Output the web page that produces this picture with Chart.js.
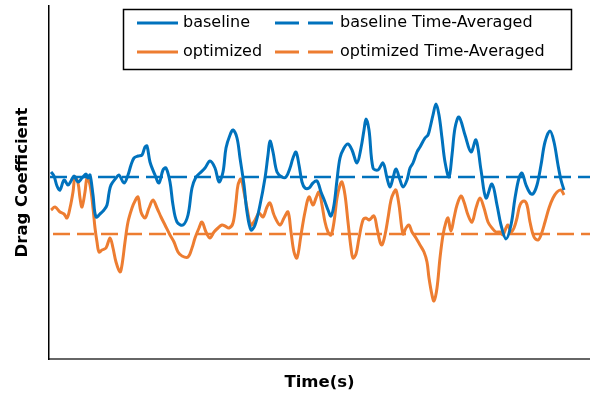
<!DOCTYPE html>
<html>
<head>
<meta charset="utf-8">
<script src="https://cdn.jsdelivr.net/npm/chart.js@4/dist/chart.umd.min.js"></script>
<style>
  html, body { margin: 0; padding: 0; background: #fff; }
  #wrap { width: 590px; height: 398px; }
</style>
</head>
<body>
<div id="wrap"><canvas id="dragChart" width="590" height="398"></canvas></div>
<script>
// Drag coefficient traces (time in s)
const baselineTime = [0.04, 0.10, 0.16, 0.22, 0.30, 0.38, 0.44, 0.50, 0.58, 0.66, 0.74, 0.78, 0.82, 0.88, 0.94, 1.04, 1.10, 1.16, 1.20, 1.24,
  1.34, 1.40, 1.50, 1.58, 1.64, 1.70, 1.78, 1.86, 1.92, 1.96, 2.02, 2.12, 2.20, 2.28, 2.34, 2.42, 2.48, 2.56, 2.68, 2.78,
  2.86, 2.94, 3.02, 3.12, 3.22, 3.32, 3.40, 3.48, 3.54, 3.62, 3.68, 3.76, 3.82, 3.90, 3.96, 4.04, 4.12, 4.22, 4.32, 4.38,
  4.42, 4.48, 4.56, 4.66, 4.74, 4.82, 4.88, 4.94, 5.00, 5.06, 5.12, 5.20, 5.28, 5.36, 5.44, 5.52, 5.58, 5.64, 5.70, 5.76,
  5.82, 5.90, 5.98, 6.06, 6.16, 6.24, 6.30, 6.34, 6.40, 6.48, 6.58, 6.68, 6.76, 6.82, 6.88, 6.94, 7.02, 7.08, 7.16, 7.22,
  7.28, 7.36, 7.42, 7.52, 7.58, 7.62, 7.68, 7.74, 7.80, 7.86, 7.92, 8.00, 8.06, 8.12, 8.20, 8.32, 8.44, 8.54, 8.64, 8.74,
  8.86, 8.96, 9.04, 9.14, 9.24, 9.32, 9.40, 9.46, 9.54, 9.62, 9.68, 9.76, 9.84, 9.92, 10.02, 10.10, 10.18, 10.24, 10.30];
const baselineCd = [0.387, 0.383, 0.373, 0.369, 0.379, 0.374, 0.378, 0.383, 0.377, 0.381, 0.385, 0.381, 0.384, 0.364, 0.342, 0.346, 0.349, 0.354, 0.366, 0.374,
  0.381, 0.384, 0.376, 0.384, 0.394, 0.401, 0.403, 0.404, 0.412, 0.413, 0.397, 0.384, 0.376, 0.389, 0.391, 0.377, 0.354, 0.337, 0.334, 0.344,
  0.371, 0.382, 0.386, 0.391, 0.398, 0.391, 0.377, 0.387, 0.411, 0.424, 0.429, 0.421, 0.401, 0.374, 0.347, 0.329, 0.334, 0.354, 0.381, 0.404,
  0.418, 0.407, 0.387, 0.382, 0.382, 0.391, 0.401, 0.407, 0.394, 0.377, 0.371, 0.371, 0.376, 0.378, 0.367, 0.357, 0.349, 0.343, 0.354, 0.379,
  0.401, 0.411, 0.415, 0.409, 0.396, 0.411, 0.429, 0.440, 0.429, 0.391, 0.389, 0.396, 0.381, 0.372, 0.381, 0.390, 0.379, 0.372, 0.379, 0.391,
  0.396, 0.407, 0.412, 0.421, 0.424, 0.431, 0.444, 0.455, 0.444, 0.421, 0.397, 0.382, 0.404, 0.431, 0.442, 0.424, 0.407, 0.419, 0.389, 0.361,
  0.375, 0.354, 0.334, 0.320, 0.334, 0.361, 0.381, 0.386, 0.374, 0.366, 0.365, 0.374, 0.394, 0.417, 0.428, 0.417, 0.394, 0.379, 0.369];

const optimizedTime = [0.04, 0.12, 0.22, 0.30, 0.36, 0.42, 0.48, 0.52, 0.58, 0.62, 0.66, 0.72, 0.76, 0.82, 0.88, 0.92, 0.96, 1.00, 1.06, 1.14,
  1.22, 1.28, 1.34, 1.42, 1.46, 1.52, 1.58, 1.66, 1.72, 1.78, 1.84, 1.92, 2.00, 2.08, 2.16, 2.24, 2.32, 2.42, 2.50, 2.58,
  2.66, 2.78, 2.86, 2.92, 3.00, 3.06, 3.14, 3.22, 3.30, 3.38, 3.46, 3.52, 3.60, 3.68, 3.74, 3.78, 3.84, 3.90, 3.96, 4.04,
  4.12, 4.20, 4.28, 4.36, 4.42, 4.50, 4.62, 4.70, 4.78, 4.84, 4.90, 4.96, 5.04, 5.12, 5.20, 5.28, 5.34, 5.40, 5.46, 5.52,
  5.58, 5.64, 5.70, 5.76, 5.82, 5.86, 5.92, 5.98, 6.04, 6.08, 6.14, 6.20, 6.28, 6.34, 6.40, 6.50, 6.56, 6.62, 6.66, 6.72,
  6.78, 6.84, 6.90, 6.94, 7.00, 7.08, 7.14, 7.20, 7.26, 7.34, 7.42, 7.50, 7.56, 7.60, 7.66, 7.70, 7.76, 7.82, 7.88, 7.94,
  7.98, 8.04, 8.10, 8.16, 8.24, 8.30, 8.38, 8.46, 8.54, 8.62, 8.70, 8.78, 8.86, 8.94, 9.02, 9.08, 9.14, 9.18, 9.24, 9.30,
  9.36, 9.42, 9.50, 9.56, 9.62, 9.70, 9.78, 9.84, 9.92, 10.00, 10.08, 10.16, 10.24, 10.30];
const optimizedCd = [0.349, 0.352, 0.347, 0.345, 0.341, 0.351, 0.367, 0.382, 0.376, 0.361, 0.352, 0.367, 0.381, 0.374, 0.351, 0.331, 0.317, 0.307, 0.309, 0.311,
  0.321, 0.311, 0.297, 0.287, 0.294, 0.317, 0.337, 0.351, 0.358, 0.362, 0.347, 0.341, 0.351, 0.359, 0.351, 0.342, 0.334, 0.324, 0.317, 0.307,
  0.303, 0.302, 0.311, 0.321, 0.331, 0.337, 0.327, 0.321, 0.327, 0.331, 0.334, 0.333, 0.331, 0.336, 0.357, 0.374, 0.380, 0.367, 0.351, 0.334,
  0.339, 0.346, 0.342, 0.352, 0.356, 0.344, 0.334, 0.341, 0.347, 0.327, 0.307, 0.301, 0.324, 0.347, 0.362, 0.354, 0.361, 0.367, 0.354, 0.337,
  0.327, 0.324, 0.337, 0.361, 0.374, 0.377, 0.364, 0.337, 0.311, 0.301, 0.305, 0.321, 0.339, 0.341, 0.339, 0.343, 0.331, 0.317, 0.314, 0.324,
  0.341, 0.359, 0.367, 0.369, 0.354, 0.325, 0.331, 0.334, 0.327, 0.321, 0.314, 0.307, 0.297, 0.281, 0.264, 0.258, 0.271, 0.301, 0.324, 0.337,
  0.341, 0.328, 0.341, 0.354, 0.363, 0.357, 0.344, 0.337, 0.351, 0.361, 0.351, 0.337, 0.331, 0.327, 0.327, 0.324, 0.331, 0.334, 0.327, 0.331,
  0.341, 0.354, 0.358, 0.354, 0.337, 0.322, 0.319, 0.324, 0.337, 0.351, 0.361, 0.367, 0.369, 0.364];

// Time-averaged values (horizontal dashed lines)
const baselineAvg = 0.382;
const optimizedAvg = 0.325;
const baselineAvgSpan = [0.02, 10.82];
const optimizedAvgSpan = [0.08, 10.82];

const BLUE = "#0072BD";
const ORANGE = "#ED7D31";

function toPoints(xs, ys) {
  return xs.map((x, i) => ({ x: x, y: ys[i] }));
}

// Boxed two-column legend like the reference
const boxLegend = {
  id: "boxLegend",
  afterDraw(chart) {
    const ctx = chart.ctx;
    ctx.save();
    ctx.fillStyle = "#fff";
    ctx.fillRect(123.5, 9.5, 448, 60);
    ctx.strokeStyle = "#000";
    ctx.lineWidth = 1.5;
    ctx.strokeRect(123.5, 9.5, 448, 60);

    const rows = [
      { y: 23, color: BLUE, solid: "baseline", dashed: "baseline Time-Averaged" },
      { y: 52, color: ORANGE, solid: "optimized", dashed: "optimized Time-Averaged" },
    ];
    ctx.font = "16px 'DejaVu Sans'";
    ctx.textBaseline = "middle";
    ctx.textAlign = "left";
    rows.forEach((r) => {
      ctx.strokeStyle = r.color;
      ctx.lineWidth = 3;
      ctx.beginPath();
      ctx.moveTo(137, r.y);
      ctx.lineTo(178, r.y);
      ctx.moveTo(275, r.y);
      ctx.lineTo(299, r.y);
      ctx.moveTo(308, r.y);
      ctx.lineTo(333, r.y);
      ctx.stroke();
      ctx.fillStyle = "#000";
      ctx.fillText(r.solid, 183, r.y);
      ctx.fillText(r.dashed, 340, r.y);
    });
    ctx.restore();
  },
};

const ctx = document.getElementById("dragChart").getContext("2d");
new Chart(ctx, {
  type: "line",
  data: {
    datasets: [
      {
        label: "baseline",
        data: toPoints(baselineTime, baselineCd),
        borderColor: BLUE,
        borderWidth: 3,
        pointRadius: 0,
        tension: 0.35,
        fill: false,
      },
      {
        label: "baseline Time-Averaged",
        data: toPoints(baselineAvgSpan, [baselineAvg, baselineAvg]),
        borderColor: BLUE,
        borderWidth: 2.5,
        borderDash: [17, 7],
        pointRadius: 0,
        fill: false,
      },
      {
        label: "optimized",
        data: toPoints(optimizedTime, optimizedCd),
        borderColor: ORANGE,
        borderWidth: 3,
        pointRadius: 0,
        tension: 0.35,
        fill: false,
      },
      {
        label: "optimized Time-Averaged",
        data: toPoints(optimizedAvgSpan, [optimizedAvg, optimizedAvg]),
        borderColor: ORANGE,
        borderWidth: 2.5,
        borderDash: [17, 7],
        pointRadius: 0,
        fill: false,
      },
    ],
  },
  options: {
    responsive: false,
    animation: false,
    devicePixelRatio: 1,
    layout: { padding: { top: 6, left: 0, right: 0, bottom: 0 } },
    plugins: {
      legend: { display: false },
      tooltip: { enabled: false },
    },
    scales: {
      x: {
        type: "linear",
        min: 0,
        max: 10.82,
        ticks: { display: false },
        grid: { display: false },
        border: { display: true, color: "#666", width: 2 },
        title: {
          display: true,
          text: "Time(s)",
          color: "#000",
          font: { family: "'DejaVu Sans'", size: 16.5, weight: "bold" },
          padding: { top: 0, bottom: 5 },
        },
        afterFit: (scale) => {
          scale.height = 39;
        },
      },
      y: {
        min: 0.2,
        max: 0.553,
        ticks: { display: false },
        grid: { display: false },
        border: { display: true, color: "#000", width: 1.5 },
        title: {
          display: true,
          text: "Drag Coefficient",
          color: "#000",
          font: { family: "'DejaVu Sans'", size: 16.5, weight: "bold" },
          padding: { top: 13, bottom: 0 },
        },
        afterFit: (scale) => {
          scale.width = 49;
        },
      },
    },
  },
  plugins: [boxLegend],
});
</script>
</body>
</html>
